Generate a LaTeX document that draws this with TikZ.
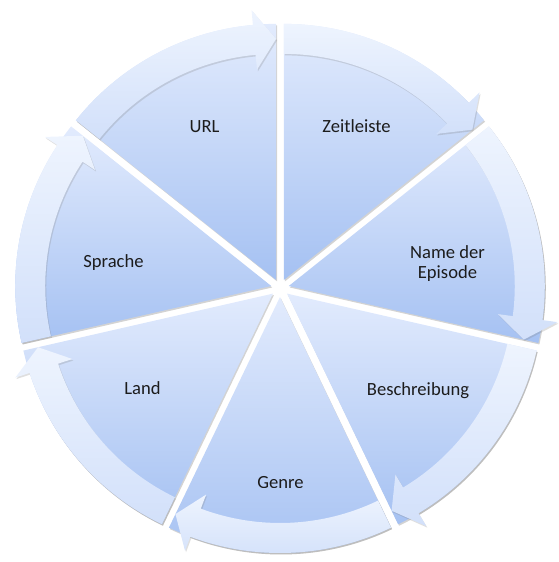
\documentclass[tikz,border=0pt]{standalone}
\usepackage{fontspec}
\setmainfont{Carlito}
\usepackage{tikz}
\usetikzlibrary{shadows}
\definecolor{segtop}{HTML}{E2EBFD}
\definecolor{segbot}{HTML}{A5C1F2}
\definecolor{bandtop}{HTML}{EEF4FE}
\definecolor{bandbot}{HTML}{D2E0FA}
\definecolor{txt}{HTML}{1C1C1C}
\tikzset{
  segfill/.style={top color=segtop, bottom color=segbot,
    drop shadow={shadow xshift=1pt, shadow yshift=-1.5pt, opacity=0.35}},
  bandfill/.style={top color=bandtop, bottom color=bandbot,
    drop shadow={shadow xshift=1pt, shadow yshift=-1.5pt, opacity=0.25}},
  lbl/.style={text=txt, font=\fontsize{18.6}{20}\selectfont, align=center},
}
% one piece of the cycle: #1 = angle of its leading edge
\newcommand{\pieseg}[1]{%
  \pgfmathsetmacro{\segmid}{#1-25.714}
  \pgfmathsetmacro{\segend}{#1-51.429}
  \pgfmathsetmacro{\seghead}{#1-46.229}
  \begin{scope}[shift={(280pt,274pt)}, shift={(\segmid:9pt)}]
    \path [segfill] (0,0) -- (#1:256pt)
      arc[start angle=#1, end angle=\segend, radius=256pt] -- cycle;
    \path [bandfill] (#1:226pt) -- (#1:256pt)
      arc[start angle=#1, end angle=\seghead, radius=256pt]
      -- (\seghead:271pt) -- (\segend:241pt) -- (\seghead:211pt) -- (\seghead:226pt)
      arc[start angle=\seghead, end angle=#1, radius=226pt] -- cycle;
  \end{scope}}

\begin{document}
\begin{tikzpicture}[x=1pt, y=1pt]
        \useasboundingbox (0,0) rectangle (559,562);
        \pieseg{141.429}
        \pieseg{90}
        \pieseg{38.571}
        \pieseg{-12.857}
        \pieseg{-64.286}
        \pieseg{-115.714}
        \pieseg{-167.143}
        \node [lbl, anchor=base] (url)   at (204.5,429) {URL};
        \node [lbl, anchor=base] (zeit)  at (356.5,429) {Zeitleiste};
        \node [lbl] (name)  at (447.5,298) {Name der\\Episode};
        \node [lbl, anchor=base] (besch) at (418,166) {Beschreibung};
        \node [lbl, anchor=base] (land)  at (142.5,167) {Land};
        \node [lbl, anchor=base] (spr)   at (113.5,294) {Sprache};
        \begin{scope}
          \clip (230,74) rectangle (330,100);
          \node [lbl, anchor=base] (genre) at (280.5,73) {Genre};
        \end{scope}
      \end{tikzpicture}
\end{document}
